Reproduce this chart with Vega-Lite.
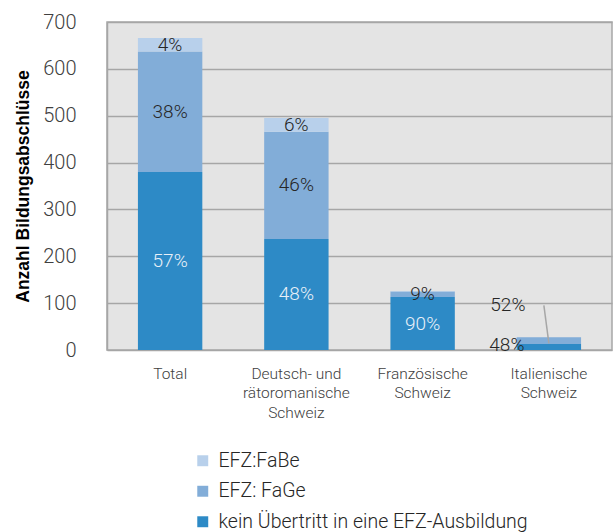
{
  "$schema": "https://vega.github.io/schema/vega-lite/v6.json",
  "width": 505,
  "height": 328,
  "autosize": {"type": "none"},
  "padding": {"left": 107, "top": 22, "right": 2, "bottom": 182},
  "background": "white",
  "config": {
    "view": {"fill": "#e4e4e4", "stroke": "#a6a6a6", "strokeWidth": 1.5},
    "font": "Roboto",
    "axis": {"labelFont": "Roboto", "titleFont": "Liberation Sans", "labelFontWeight": 300},
    "legend": {"labelFont": "Roboto", "labelFontWeight": 300}
  },
  "data": {
    "values": [
      {"cat": "Total", "serie": "kein Übertritt in eine EFZ-Ausbildung", "ord": 1, "wert": 380, "pct": "57%"},
      {"cat": "Total", "serie": "EFZ: FaGe", "ord": 2, "wert": 257, "pct": "38%"},
      {"cat": "Total", "serie": "EFZ:FaBe", "ord": 3, "wert": 29, "pct": "4%"},
      {"cat": "Deutsch- und|rätoromanische|Schweiz", "serie": "kein Übertritt in eine EFZ-Ausbildung", "ord": 1, "wert": 237, "pct": "48%"},
      {"cat": "Deutsch- und|rätoromanische|Schweiz", "serie": "EFZ: FaGe", "ord": 2, "wert": 229, "pct": "46%"},
      {"cat": "Deutsch- und|rätoromanische|Schweiz", "serie": "EFZ:FaBe", "ord": 3, "wert": 29, "pct": "6%"},
      {"cat": "Französische|Schweiz", "serie": "kein Übertritt in eine EFZ-Ausbildung", "ord": 1, "wert": 113, "pct": "90%"},
      {"cat": "Französische|Schweiz", "serie": "EFZ: FaGe", "ord": 2, "wert": 12, "pct": "9%"},
      {"cat": "Französische|Schweiz", "serie": "EFZ:FaBe", "ord": 3, "wert": 1, "pct": ""},
      {"cat": "Italienische|Schweiz", "serie": "kein Übertritt in eine EFZ-Ausbildung", "ord": 1, "wert": 13, "pct": "48%"},
      {"cat": "Italienische|Schweiz", "serie": "EFZ: FaGe", "ord": 2, "wert": 14, "pct": "52%"},
      {"cat": "Italienische|Schweiz", "serie": "EFZ:FaBe", "ord": 3, "wert": 0, "pct": ""}
    ]
  },
  "encoding": {
    "x": {
      "field": "cat", "type": "nominal", "sort": null,
      "scale": {"paddingInner": 0.49, "paddingOuter": 0.245},
      "axis": {
        "title": null, "labelAngle": 0, "labelExpr": "split(datum.label, '|')",
        "labelFontSize": 15.5, "labelColor": "#404040", "labelPadding": 16,
        "labelLineHeight": 19.5, "ticks": false, "domain": false, "labelBaseline": "top"
      }
    }
  },
  "layer": [
    {
      "mark": {"type": "bar"},
      "encoding": {
        "y": {
          "field": "wert", "type": "quantitative", "stack": "zero",
          "scale": {"domain": [0, 700], "nice": false},
          "axis": {
            "title": "Anzahl Bildungsabschlüsse", "titleFontSize": 17.5, "titleFontWeight": "bold",
            "titleColor": "#000000", "titlePadding": 10,
            "labelFontSize": 20, "labelColor": "#404040", "labelPadding": 31, "tickCount": 7,
            "ticks": false, "domainColor": "#a6a6a6", "domainWidth": 1.5,
            "gridColor": "#a6a6a6", "gridWidth": 1.5
          }
        },
        "color": {
          "field": "serie", "type": "nominal",
          "scale": {
            "domain": ["EFZ:FaBe", "EFZ: FaGe", "kein Übertritt in eine EFZ-Ausbildung"],
            "range": ["#b8d0eb", "#82add8", "#2d8ac6"]
          },
          "legend": {
            "title": null, "orient": "none", "legendX": 86, "legendY": 429,
            "direction": "vertical", "symbolType": "square", "symbolSize": 120,
            "symbolStrokeWidth": 0, "labelFontSize": 19.5, "labelColor": "#262626",
            "rowPadding": 9.5, "labelOffset": 6, "labelLimit": 500
          }
        },
        "order": {"field": "ord", "type": "quantitative"}
      }
    },
    {
      "transform": [
        {"stack": "wert", "groupby": ["cat"], "sort": [{"field": "ord"}], "as": ["y0", "y1"]},
        {"filter": "datum.cat != 'Italienische|Schweiz' && datum.pct != ''"},
        {"calculate": "(datum.y0 + datum.y1) / 2", "as": "ymid"}
      ],
      "mark": {"type": "text", "fontSize": 19, "fontWeight": 300, "baseline": "middle"},
      "encoding": {
        "y": {"field": "ymid", "type": "quantitative"},
        "text": {"field": "pct"},
        "color": {
          "condition": {"test": "datum.ord == 1", "value": "#e8f0f8"},
          "value": "#262626"
        }
      }
    },
    {
      "transform": [
        {"filter": "datum.cat == 'Italienische|Schweiz' && datum.ord == 1"}
      ],
      "mark": {"type": "text", "fontSize": 19, "fontWeight": 300, "baseline": "middle", "dx": -42, "dy": 1},
      "encoding": {
        "y": {"field": "wert", "type": "quantitative"},
        "text": {"field": "pct"},
        "color": {"value": "#262626"}
      }
    },
    {
      "transform": [
        {"filter": "datum.cat == 'Italienische|Schweiz' && datum.ord == 2"}
      ],
      "mark": {"type": "text", "fontSize": 19, "fontWeight": 300, "baseline": "middle", "dx": -41, "dy": -38},
      "encoding": {
        "y": {"field": "wert", "type": "quantitative"},
        "text": {"field": "pct"},
        "color": {"value": "#262626"}
      }
    },
    {
      "transform": [
        {"filter": "datum.cat == 'Italienische|Schweiz' && datum.ord == 2"}
      ],
      "mark": {"type": "rule", "color": "#a6a6a6", "strokeWidth": 1.5, "xOffset": -5, "x2Offset": 0, "yOffset": -38},
      "encoding": {
        "x2": {"field": "cat"},
        "y": {"field": "wert", "type": "quantitative"},
        "y2": {"field": "wert"}
      }
    }
  ]
}
